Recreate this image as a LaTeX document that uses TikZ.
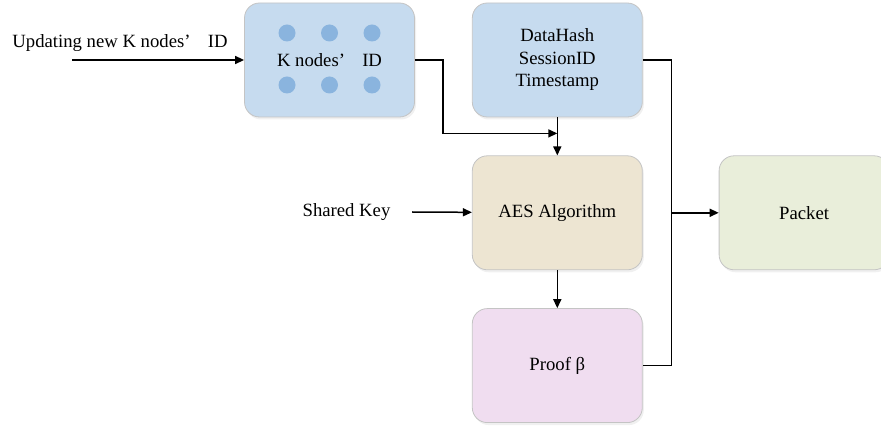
\documentclass[tikz,border=0pt]{standalone}
\usepackage{fontspec}
\setmainfont{Liberation Serif}
\usepackage{xcolor}
\usetikzlibrary{positioning,calc,shadows,arrows.meta}
\definecolor{boxblue}{HTML}{C6DBEF}
\definecolor{dotblue}{HTML}{8AB4DE}
\definecolor{boxsand}{HTML}{EDE5D2}
\definecolor{boxgreen}{HTML}{E9EEDA}
\definecolor{boxpink}{HTML}{F0DDF0}
\definecolor{boxedge}{HTML}{C4C4C4}

\begin{document}
\begin{tikzpicture}[x=1pt, y=-1pt, node distance=38pt and 57pt,
        font=\fontsize{18.7}{22.5}\selectfont,
        block/.style={draw=boxedge, line width=0.8pt, rounded corners=15pt, minimum width=170pt, minimum height=114pt, align=center, inner sep=0pt,
            drop shadow={opacity=0.12, shadow xshift=1.5pt, shadow yshift=-2.5pt}},
        lbl/.style={inner sep=0pt},
        link/.style={line width=1.5pt, -{Triangle[length=9pt, width=8pt]}},
        wire/.style={line width=1.5pt}
    ]
        \useasboundingbox (0,0) rectangle (881,427);

        \node [block, fill=boxblue] (kid) at (329.5,60) {};
        \node [lbl] (kidtxt) at (kid) {K nodes’\hspace{0.92em}ID};
        \node [block, fill=boxblue, right=of kid] (data) {DataHash\\SessionID\\Timestamp};
        \node [block, fill=boxsand, below=of data] (aes) {AES Algorithm};
        \node [block, fill=boxpink, below=of aes] (proof) {Proof β};
        \node [block, fill=boxgreen, right=76pt of aes] (packet) {Packet};

        % node dots
        \foreach \dx in {-42.5,0,42.5}
            \foreach \dy in {-27,25}
                \fill [dotblue] ($(kid)+(\dx,\dy)$) circle (8.5pt);

        \node [lbl] (upd) at (120,43) {Updating new K nodes’\hspace{0.92em}ID};
        \node [lbl] (key) at (346.5,212) {Shared Key};
        \coordinate (src) at (72,60);
        \coordinate (keyin) at (412,212);
        \coordinate (mrg) at ($(aes.north)+(0,-22)$);

        \draw [link] (src) -- (kid);
        \draw [link] (kid.east) -- ++(28,0) |- (mrg);
        \draw [link] (data) -- (aes);
        \draw [link] (keyin) -- (aes);
        \draw [link] (aes) -- (proof);
        \draw [wire] (data.east) -- ++(29,0) coordinate (bus) |- (proof.east);
        \draw [link] (bus |- packet.west) -- (packet);
    \end{tikzpicture}
\end{document}
